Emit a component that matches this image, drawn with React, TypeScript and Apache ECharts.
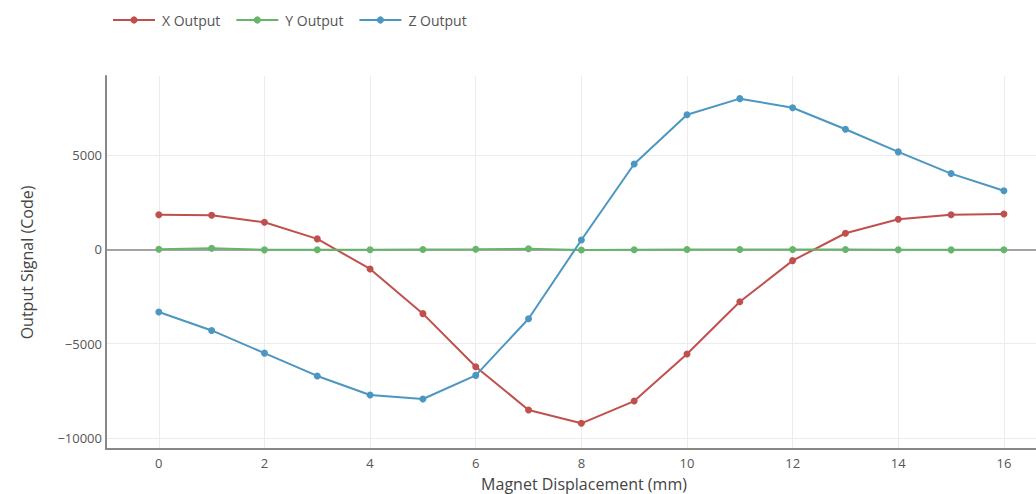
import React, { useEffect, useRef } from "react";
import * as echarts from "echarts";

const displacement = [0, 1, 2, 3, 4, 5, 6, 7, 8, 9, 10, 11, 12, 13, 14, 15, 16];
const xOutput = [1830, 1800, 1430, 550, -1040, -3410, -6220, -8510, -9220, -8040, -5550, -2780, -600, 850, 1590, 1830, 1870];
const yOutput = [0, 50, -30, -20, -20, -10, 0, 30, -40, -20, -10, -10, -10, -10, -20, -30, -20];
const zOutput = [-3320, -4300, -5500, -6710, -7720, -7930, -6680, -3680, 490, 4520, 7130, 7980, 7500, 6360, 5160, 4010, 3100];
const xTicks = [0, 2, 4, 6, 8, 10, 12, 14, 16];
const yTicks = [-10000, -5000, 0, 5000];
const seriesNames = ["X Output", "Y Output", "Z Output"];
const colors = ["#c0504d", "#66b56b", "#4b97c1"];

const FONT = "'Open Sans', 'DejaVu Sans', sans-serif";

export default function App() {
  const ref = useRef<HTMLDivElement>(null);
  useEffect(() => {
    document.body.style.margin = "0";
    document.body.style.overflow = "hidden";
    if (!ref.current) return;
    const chart = echarts.init(ref.current, undefined, { renderer: "svg" });
    const datasets = [xOutput, yOutput, zOutput];
    chart.setOption({
      animation: false,
      backgroundColor: "#ffffff",
      textStyle: { fontFamily: FONT },
      legend: {
        data: seriesNames,
        left: 112,
        top: 13,
        padding: 0,
        itemWidth: 42,
        itemHeight: 9,
        itemGap: 15,
        textStyle: { color: "#555", fontSize: 14, fontFamily: FONT, padding: [0, 0, 0, 2] },
      },
      grid: { left: 106, top: 76, right: 0, bottom: 45, containLabel: false, outerBoundsMode: "none" },
      xAxis: {
        type: "value",
        min: -1,
        max: 17.1,
        name: "Magnet Displacement (mm)",
        nameLocation: "middle",
        nameGap: 27,
        nameTextStyle: { color: "#444", fontSize: 16, fontFamily: FONT },
        axisLine: { onZero: false, lineStyle: { color: "#888", width: 2 } },
        axisTick: { show: false, customValues: xTicks },
        axisLabel: { customValues: xTicks, color: "#555", fontSize: 13, margin: 7, fontFamily: FONT },
        splitLine: { show: true, lineStyle: { color: "#ececec", width: 1 } },
      },
      yAxis: {
        type: "value",
        min: -10580,
        max: 9180,
        name: "Output Signal (Code)",
        nameLocation: "middle",
        nameGap: 71,
        nameTextStyle: { color: "#444", fontSize: 16, fontFamily: FONT },
        axisLine: { show: true, onZero: false, lineStyle: { color: "#888", width: 2 } },
        axisTick: { show: false, customValues: yTicks },
        axisLabel: {
          customValues: yTicks,
          color: "#555",
          fontSize: 13,
          margin: 4,
          fontFamily: FONT,
          formatter: (v: number) => String(v).replace("-", "\u2212"),
        },
        splitLine: { show: true, lineStyle: { color: "#ececec", width: 1 } },
      },
      series: seriesNames.map((name, i) => ({
        name,
        type: "line",
        data: displacement.map((d, j) => [d, datasets[i][j]]),
        color: colors[i],
        symbol: "circle",
        symbolSize: 7,
        showSymbol: true,
        lineStyle: { width: 2, color: colors[i] },
        itemStyle: { color: colors[i] },
        z: 3 + i,
        markLine:
          i === 0
            ? {
                silent: true,
                symbol: ["none", "none"],
                label: { show: false },
                lineStyle: { color: "#888", type: "solid", width: 1.5 },
                data: [{ yAxis: 0 }],
                z: 1,
              }
            : undefined,
      })),
    });
    return () => chart.dispose();
  }, []);
  return (
    <div style={{ width: 1036, height: 494, overflow: "hidden", position: "relative" }}>
      <div ref={ref} style={{ width: 1062, height: 494 }} />
    </div>
  );
}
